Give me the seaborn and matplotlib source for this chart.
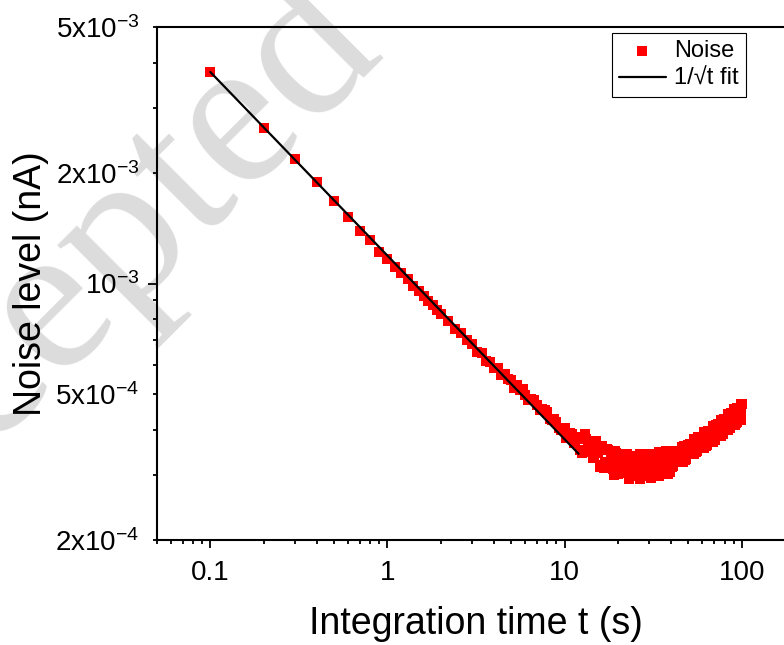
import numpy as np
import pandas as pd
import matplotlib
matplotlib.use("Agg")
import matplotlib.pyplot as plt
import matplotlib.ticker as mticker
import seaborn as sns

# integration time t (s) and noise level (units of 1e-3 nA)
t_short = [0.1, 0.2, 0.3, 0.4, 0.5, 0.6, 0.7, 0.8, 0.9, 1.0,
           1.1, 1.2, 1.3, 1.4, 1.5, 1.6, 1.7, 1.8, 1.9, 2.0]
noise_short = [3.77, 2.66, 2.19, 1.89, 1.68, 1.515, 1.39, 1.315, 1.222, 1.165,
               1.11, 1.065, 1.03, 0.985, 0.955, 0.925, 0.895, 0.872, 0.846, 0.826]

t_mid = [2.2, 2.4, 2.6, 2.8, 3.0, 3.2, 3.4, 3.6, 3.8, 4.0,
         4.2, 4.4, 4.6, 4.8, 5.0, 5.2, 5.4, 5.6, 5.8, 6.0]
noise_mid = [0.790, 0.752, 0.735, 0.700, 0.683, 0.652, 0.648, 0.615, 0.612, 0.590,
             0.588, 0.562, 0.566, 0.548, 0.545, 0.520, 0.530, 0.512, 0.515, 0.498]

t_knee = [6.25, 6.5, 6.75, 7.0, 7.25, 7.5, 7.75, 8.0, 8.25, 8.5, 8.75, 9.0, 9.25,
          9.5, 9.75, 10.0, 10.25, 10.5, 10.75, 11.0, 11.25, 11.5, 11.75, 12.0, 12.25]
noise_knee = [0.480, 0.485, 0.482, 0.468, 0.452, 0.455, 0.452, 0.446, 0.428, 0.425, 0.426, 0.420, 0.405,
              0.398, 0.402, 0.405, 0.380, 0.385, 0.392, 0.390, 0.368, 0.368, 0.378, 0.382, 0.352]

t_valley = [12.5, 13.0, 13.5, 14.0, 14.5, 15.0, 15.5, 16.0, 16.5, 17.0, 17.5, 18.0,
            18.5, 19.0, 19.5, 20.0, 20.5, 21.0, 21.5, 22.0, 22.5, 23.0, 23.5, 24.0,
            24.5, 25.0, 25.5, 26.0, 26.5, 27.0, 27.5, 28.0, 28.5, 29.0, 29.5, 30.0,
            30.5, 31.0, 31.5, 32.0, 32.5, 33.0, 33.5, 34.0, 34.5, 35.0, 35.5, 36.0,
            36.5, 37.0, 37.5, 38.0, 38.5, 39.0, 39.5, 40.0]
noise_valley = [0.346, 0.388, 0.354, 0.367, 0.334, 0.372, 0.345, 0.321, 0.353, 0.327, 0.351, 0.318,
                0.332, 0.301, 0.346, 0.302, 0.343, 0.317, 0.332, 0.305, 0.343, 0.320, 0.301, 0.333,
                0.310, 0.336, 0.307, 0.323, 0.294, 0.339, 0.298, 0.339, 0.314, 0.330, 0.304, 0.342,
                0.321, 0.302, 0.334, 0.312, 0.339, 0.310, 0.327, 0.298, 0.344, 0.302, 0.345, 0.319,
                0.336, 0.311, 0.350, 0.328, 0.309, 0.342, 0.320, 0.348]

t_valley_b = [12.75, 13.25, 13.75, 14.25, 14.75, 15.25, 15.75, 16.25, 16.75, 17.25, 17.75,
              18.25, 18.75, 19.25, 19.75, 20.25, 20.75, 21.25, 21.75, 22.25, 22.75, 23.25,
              23.75, 24.25, 24.75, 25.25, 25.75, 26.25, 26.75, 27.25, 27.75, 28.25, 28.75,
              29.25, 29.75, 30.25, 30.75, 31.25, 31.75, 32.25, 32.75, 33.25, 33.75, 34.25,
              34.75, 35.25, 35.75, 36.25, 36.75, 37.25, 37.75, 38.25, 38.75, 39.25, 39.75]
noise_valley_b = [0.347, 0.378, 0.347, 0.372, 0.336, 0.349, 0.316, 0.360, 0.314, 0.355, 0.325,
                  0.340, 0.312, 0.349, 0.325, 0.305, 0.336, 0.312, 0.337, 0.308, 0.323, 0.294,
                  0.339, 0.298, 0.339, 0.314, 0.330, 0.304, 0.342, 0.320, 0.301, 0.333, 0.310,
                  0.336, 0.307, 0.323, 0.295, 0.340, 0.299, 0.341, 0.317, 0.333, 0.308, 0.347,
                  0.325, 0.306, 0.339, 0.316, 0.343, 0.314, 0.331, 0.302, 0.349, 0.306, 0.350]

t_rise = [41, 42, 43, 44, 45, 46, 47, 48, 49, 50, 51, 52, 53, 54, 55, 56, 57, 58, 59, 60,
          61, 62, 63, 64, 65, 66, 67, 68, 69, 70, 71, 72, 73, 74, 75, 76, 77, 78, 79, 80,
          81, 82, 83, 84, 85, 86, 87, 88, 89, 90, 91, 92, 93, 94, 95, 96, 97, 98, 99, 100]
noise_rise = [0.319, 0.347, 0.333, 0.345, 0.328, 0.359, 0.344, 0.330, 0.358, 0.344,
              0.365, 0.344, 0.361, 0.342, 0.378, 0.349, 0.381, 0.364, 0.377, 0.359,
              0.393, 0.376, 0.361, 0.391, 0.374, 0.397, 0.374, 0.392, 0.371, 0.410,
              0.378, 0.412, 0.394, 0.408, 0.388, 0.424, 0.406, 0.390, 0.422, 0.404,
              0.428, 0.404, 0.422, 0.399, 0.441, 0.407, 0.443, 0.424, 0.439, 0.416,
              0.455, 0.435, 0.417, 0.452, 0.431, 0.457, 0.431, 0.450, 0.425, 0.469]

t_rise_b = [40.5, 41.5, 42.5, 43.5, 44.5, 45.5, 46.5, 47.5, 48.5, 49.5, 50.5, 51.5,
            52.5, 53.5, 54.5, 55.5, 56.5, 57.5, 58.5, 59.5, 60.5, 61.5, 62.5, 63.5,
            64.5, 65.5, 66.5, 67.5, 68.5, 69.5, 70.5, 71.5, 72.5, 73.5, 74.5, 75.5,
            76.5, 77.5, 78.5, 79.5, 80.5, 81.5, 82.5, 83.5, 84.5, 85.5, 86.5, 87.5,
            88.5, 89.5, 90.5, 91.5, 92.5, 93.5, 94.5, 95.5, 96.5, 97.5, 98.5, 99.5]
noise_rise_b = [0.317, 0.343, 0.328, 0.349, 0.329, 0.344, 0.326, 0.361, 0.333, 0.363, 0.348, 0.361,
                0.344, 0.376, 0.361, 0.347, 0.376, 0.360, 0.382, 0.360, 0.377, 0.356, 0.394, 0.364,
                0.396, 0.379, 0.393, 0.373, 0.408, 0.391, 0.375, 0.407, 0.389, 0.413, 0.389, 0.407,
                0.385, 0.425, 0.393, 0.427, 0.409, 0.423, 0.402, 0.440, 0.421, 0.404, 0.438, 0.418,
                0.444, 0.418, 0.436, 0.412, 0.456, 0.420, 0.457, 0.437, 0.452, 0.429, 0.469, 0.448]

# 1/sqrt(t) fit, end points
fit_t = [0.1, 12.0]
fit_noise = [3.77e-3, 3.435e-4]

x_ticks = [0.1, 1, 10, 100]
y_labels = {2e-4: "2x10$^{-4}$", 5e-4: "5x10$^{-4}$", 1e-3: "10$^{-3}$",
            2e-3: "2x10$^{-3}$", 5e-3: "5x10$^{-3}$"}

sns.set_style("ticks")
plt.rcParams["font.family"] = ["Liberation Sans", "DejaVu Sans"]
plt.rcParams["mathtext.fontset"] = "custom"
plt.rcParams["mathtext.rm"] = "Liberation Sans"
plt.rcParams["mathtext.default"] = "regular"
for key in ["text.color", "axes.labelcolor", "xtick.color", "ytick.color"]:
    plt.rcParams[key] = "black"

t_all = t_short + t_mid + t_knee + t_valley + t_valley_b + t_rise + t_rise_b
noise_all = noise_short + noise_mid + noise_knee + noise_valley + noise_valley_b + noise_rise + noise_rise_b
df = pd.DataFrame({"t": t_all, "noise": np.array(noise_all) * 1e-3})
fit = pd.DataFrame({"t": fit_t, "noise": fit_noise})

fig = plt.figure(figsize=(7.84, 6.45), dpi=100)
ax = fig.add_axes([157 / 784, 1 - 540 / 645, (795 - 157) / 784, (540 - 27) / 645])
ax.patch.set_alpha(0)

# watermark behind everything
fig.text(62 / 784, 1 - 305 / 645, "Accepted", rotation=45, fontsize=155,
         color="#dcdcdc", family="Liberation Serif", ha="center", va="center", zorder=-1)

sns.scatterplot(data=df, x="t", y="noise", marker="s", s=42, color="red",
                linewidth=0, label="Noise", ax=ax, zorder=3)
sns.lineplot(data=fit, x="t", y="noise", color="black", linewidth=1.6,
             label="1/\u221at fit", ax=ax, zorder=4)

ax.set_xscale("log")
ax.set_yscale("log")
ax.set_xlim(0.05, 200)
ax.set_ylim(2e-4, 5e-3)

ax.xaxis.set_major_locator(mticker.FixedLocator(x_ticks))
ax.xaxis.set_major_formatter(mticker.FuncFormatter(lambda v, _: f"{v:g}"))
ax.xaxis.set_minor_locator(mticker.LogLocator(base=10, subs=np.arange(2, 10), numticks=20))
ax.xaxis.set_minor_formatter(mticker.NullFormatter())

ax.yaxis.set_major_locator(mticker.LogLocator(base=10, numticks=10))
ax.yaxis.set_minor_locator(mticker.LogLocator(base=10, subs=np.arange(2, 10), numticks=20))


def ylab(v, _):
    for k, s in y_labels.items():
        if abs(v - k) / k < 1e-6:
            return s
    return ""


ax.yaxis.set_major_formatter(mticker.FuncFormatter(ylab))
ax.yaxis.set_minor_formatter(mticker.FuncFormatter(ylab))

ax.tick_params(axis="both", which="both", direction="out", width=1.3, labelsize=20,
               top=False, right=False, colors="black")
ax.tick_params(axis="x", which="major", length=5.5, pad=9)
ax.tick_params(axis="x", which="minor", length=3)
ax.tick_params(axis="y", which="major", length=6.5, pad=6)
ax.tick_params(axis="y", which="minor", length=3, pad=9.5)

for sp in ax.spines.values():
    sp.set_linewidth(1.5)
    sp.set_color("black")

ax.set_xlabel("Integration time t (s)", fontsize=27, labelpad=14)
ax.set_ylabel("Noise level (nA)", fontsize=27, labelpad=5)

leg = ax.legend(loc="upper right", bbox_to_anchor=(746 / 784, 1 - 33 / 645),
                bbox_transform=fig.transFigure, borderaxespad=0, fontsize=17,
                frameon=True, fancybox=False, edgecolor="black", framealpha=1,
                handlelength=2.0, handletextpad=0.35, borderpad=0.3, labelspacing=0.25,
                markerscale=1.0)
leg.get_frame().set_linewidth(0.8)
for txt in leg.get_texts():
    txt.set_color("black")

fig.savefig("out.png", dpi=100)
